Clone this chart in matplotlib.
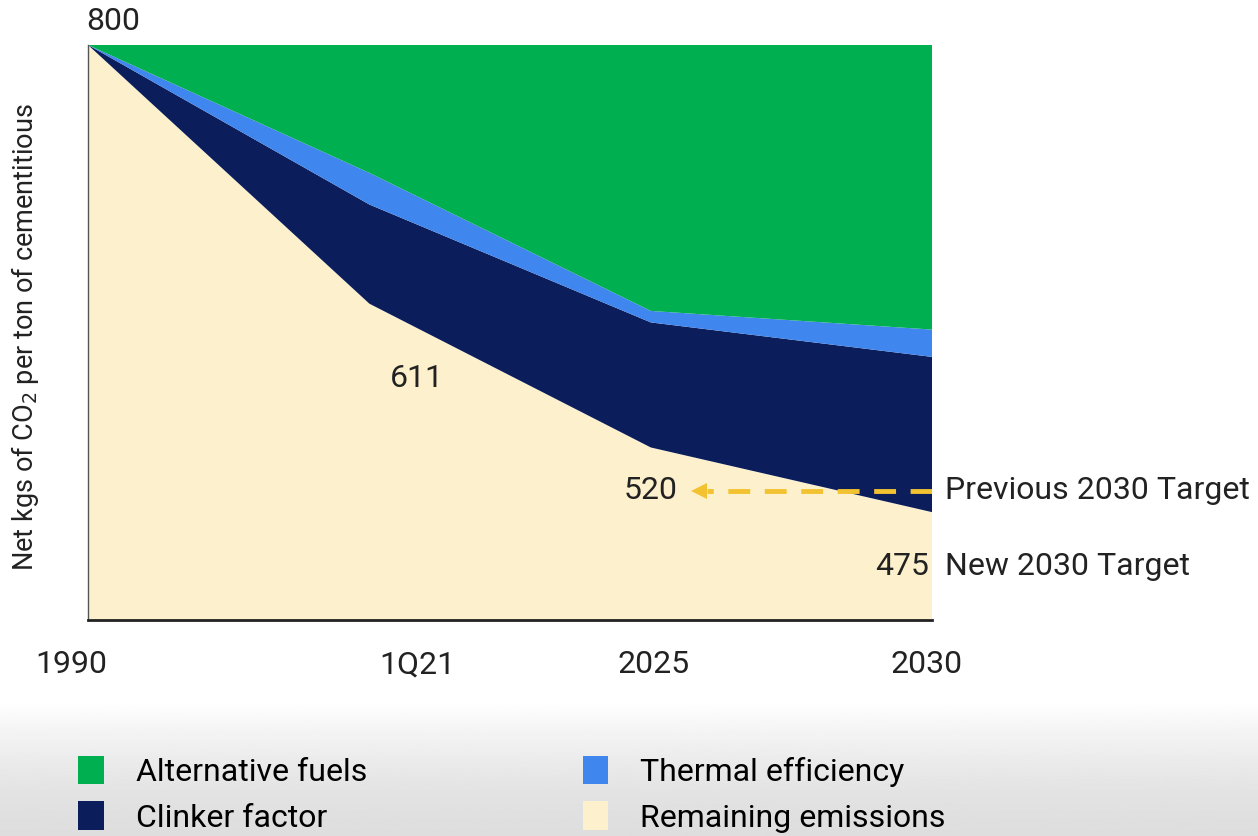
"""
Net CO2 per ton of cementitious: stacked area of reduction levers, 1990 -> 2030
"""

import numpy as np
import matplotlib
matplotlib.use('Agg')
import matplotlib.pyplot as plt
from matplotlib.patches import Patch

plt.rcParams['font.family'] = ['Roboto', 'DejaVu Sans']

# data (kg CO2 per ton)
periods = ['1990', '1Q21', '2025', '2030']
remaining = [800, 620, 520, 475]
clinker = [0, 69, 87, 108]
thermal = [0, 22, 8, 19]
alt_fuels = [0, 89, 185, 198]

prev_target = 520
new_target = 475
label_611 = 611

# where things sit on the value scale in the picture (labels are not on the curve)
prev_line_y = 490
new_label_y = 437
label_611_y = 568

# where the period labels sit under the axis (they are not centred on the breaks)
tick_pos = [-0.06, 1.17, 2.01, 2.98]

colors = {
    'Remaining emissions': '#fdf1cd',
    'Clinker factor': '#0b1e5b',
    'Thermal efficiency': '#3f86ee',
    'Alternative fuels': '#00b050',
}

x = np.arange(len(periods))
FS = 23

fig = plt.figure(figsize=(12.58, 8.36), dpi=100)

# soft grey fade at the bottom of the screenshot
bg = fig.add_axes([0, 0, 1, 0.16], zorder=-5)
t = np.linspace(0, 1, 100) ** 1.6
grad = (0.87 + 0.13 * t).reshape(-1, 1)
bg.imshow(grad, cmap='gray', vmin=0, vmax=1, aspect='auto', extent=[0, 1, 0, 1],
          origin='lower')
bg.axis('off')

ax = fig.add_axes([0.07, 0.2584, 0.671, 0.6878])

ax.stackplot(x, remaining, clinker, thermal, alt_fuels,
             colors=[colors['Remaining emissions'], colors['Clinker factor'],
                     colors['Thermal efficiency'], colors['Alternative fuels']],
             linewidth=0)

for s in ['top', 'right']:
    ax.spines[s].set_visible(False)
ax.spines['left'].set_color('#555555')
ax.spines['left'].set_linewidth(1)
ax.spines['bottom'].set_color('#222222')
ax.spines['bottom'].set_linewidth(2)

ax.set_xlim(0, 3)
ax.set_ylim(400, 800)
ax.set_xticks([])
ax.set_yticks([])

# period labels under the axis (1990 hangs left of the axis start)
for p, lab in zip(tick_pos, periods):
    ax.text(p, -0.078, lab, transform=ax.get_xaxis_transform(), ha='center', va='center',
            fontsize=FS, color='#222222', clip_on=False)

# value labels
txt = dict(fontsize=FS, color='#222222')
ax.annotate(str(remaining[0]), xy=(0, 800), xytext=(25, 23), textcoords='offset pixels',
            ha='center', va='center', annotation_clip=False, **txt)
ax.text(1.17, label_611_y, str(label_611), ha='center', va='center', **txt)
ax.text(2.0, prev_line_y, str(prev_target), ha='center', va='center', **txt)
ax.text(2.99, new_label_y, str(new_target), ha='right', va='center', **txt)
ax.text(3.045, prev_line_y, 'Previous 2030 Target', ha='left', va='center', clip_on=False, **txt)
ax.text(3.045, new_label_y, 'New 2030 Target', ha='left', va='center', clip_on=False, **txt)

# dashed arrow for the previous target
gold = '#f2c230'
ax.plot([3.0, 2.2], [prev_line_y, prev_line_y], color=gold, lw=3.5,
        dashes=(4.5, 3), solid_capstyle='butt')
ax.plot([2.17], [prev_line_y], marker='<', color=gold, markersize=11, markeredgewidth=0)

fig.text(25 / 1258, 1 - 337 / 836, 'Net kgs of CO$_2$ per ton of cementitious',
         rotation=90, ha='center', va='center', fontsize=19.5, color='#222222')

order = ['Alternative fuels', 'Clinker factor', 'Thermal efficiency', 'Remaining emissions']
handles = [Patch(facecolor=colors[k], edgecolor='none', label=k) for k in order]
fig.legend(handles=handles, ncol=2, loc='upper left', bbox_to_anchor=(78 / 1258, 0.096),
           frameon=False, fontsize=FS, handlelength=0.8, handleheight=1.0,
           handletextpad=1.0, columnspacing=6.75, labelspacing=0.45,
           borderpad=0, borderaxespad=0)

plt.savefig('out.png', dpi=100)
